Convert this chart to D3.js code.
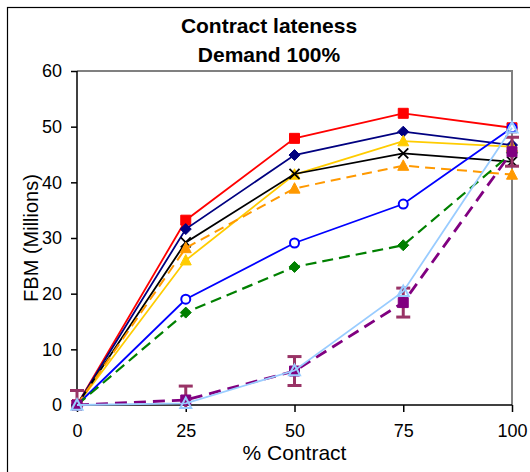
<!DOCTYPE html>
<html>
<head>
<meta charset="utf-8">
<script src="https://cdn.jsdelivr.net/npm/d3@7"></script>
<style>
  html, body { margin: 0; padding: 0; background: #fff; }
  svg { display: block; font-family: "Liberation Sans", Arial, sans-serif; }
</style>
</head>
<body>
<svg id="chart" width="530" height="472"></svg>
<script>
// % of supply under contract
const contractPct = [0, 25, 50, 75, 100];
const xTicks = [0, 25, 50, 75, 100];
const yTicks = [0, 10, 20, 30, 40, 50, 60];

// FBM (millions) per scenario
const redSquares     = [0, 33.2, 47.9, 52.4, 49.8];
const navyDiamonds   = [0, 31.6, 44.9, 49.1, 46.7];
const goldTriangles  = [0, 26.0, 41.4, 47.4, 46.4];
const blackCrosses   = [0, 29.2, 41.5, 45.2, 43.7];
const orangeTriangles= [0, 28.2, 38.9, 43.0, 41.4];
const blueCircles    = [0, 19.0, 29.1, 36.1, 49.8];
const greenDiamonds  = [0, 16.6, 24.8, 28.7, 45.3];
const purpleSquares  = [0, 0.9, 6.1, 18.4, 45.5];
const purpleErr      = [2.6, 2.5, 2.6, 2.6, 2.6];
const skyTriangles   = [0, 0.3, 6.2, 20.4, 49.8];

const series = [
  { values: redSquares,      color: "#FF0000", dash: null,   width: 1.8, marker: "square",   size: 10, fill: true },
  { values: navyDiamonds,    color: "#000080", dash: null,   width: 1.8, marker: "diamond",  size: 11, fill: true },
  { values: goldTriangles,   color: "#FFCC00", dash: null,   width: 1.8, marker: "triangle", size: 11, fill: true },
  { values: blackCrosses,    color: "#000000", dash: null,   width: 1.8, marker: "cross",    size: 10, fill: false },
  { values: orangeTriangles, color: "#FF9900", dash: "10,6", width: 2,   marker: "triangle", size: 11, fill: true },
  { values: blueCircles,     color: "#0000FF", dash: null,   width: 1.8, marker: "circle",   size: 9,  fill: false },
  { values: greenDiamonds,   color: "#008000", dash: "11,6", width: 2.2, marker: "diamond",  size: 11, fill: true },
  { values: purpleSquares,   color: "#800080", dash: "12,7", width: 2.8, marker: "square",   size: 10, fill: true, err: purpleErr },
  { values: skyTriangles,    color: "#99CCFF", dash: null,   width: 1.8, marker: "triangle", size: 11, fill: false }
];

const svg = d3.select("#chart");
const plot = { left: 77, right: 512, top: 71, bottom: 405 };

const x = d3.scaleLinear().domain([0, 100]).range([plot.left, plot.right]);
const y = d3.scaleLinear().domain([0, 60]).range([plot.bottom, plot.top]);

// outer frame
svg.append("rect")
  .attr("x", 7.5).attr("y", 7.5)
  .attr("width", 540).attr("height", 480)
  .attr("fill", "none").attr("stroke", "#000").attr("stroke-width", 1.2);

// title
const title = svg.append("text")
  .attr("x", 269).attr("text-anchor", "middle")
  .attr("font-weight", "bold").attr("font-size", 21);
title.append("tspan").attr("x", 269).attr("y", 33).text("Contract lateness");
title.append("tspan").attr("x", 269).attr("y", 62).text("Demand 100%");

// plot-area frame (top and right)
svg.append("path")
  .attr("d", `M${plot.left},${plot.top}H${plot.right}V${plot.bottom}`)
  .attr("fill", "none").attr("stroke", "#808080").attr("stroke-width", 2);

// axes
const yAxis = d3.axisLeft(y).tickValues(yTicks).tickSize(6).tickPadding(9);
const xAxis = d3.axisBottom(x).tickValues(xTicks).tickSize(7).tickPadding(12);

const gy = svg.append("g").attr("transform", `translate(${plot.left},0)`).call(yAxis);
const gx = svg.append("g").attr("transform", `translate(0,${plot.bottom})`).call(xAxis);

[gx, gy].forEach(g => {
  g.select(".domain").attr("stroke", "#000").attr("stroke-width", 1.5);
  g.selectAll(".tick line").attr("stroke", "#000").attr("stroke-width", 1.5);
  g.selectAll(".tick text")
    .attr("fill", "#000")
    .attr("font-size", 18)
    .attr("font-family", "Liberation Sans, Arial, sans-serif");
});
gy.select(".domain").attr("d", `M0,${plot.top}V${plot.bottom}`);
gx.select(".domain").attr("d", `M${plot.left},0H${plot.right}`);

// axis titles
svg.append("text")
  .attr("x", (plot.left + plot.right) / 2).attr("y", 460)
  .attr("text-anchor", "middle").attr("font-size", 21)
  .text("% Contract");

svg.append("text")
  .attr("transform", `translate(38,${(plot.top + plot.bottom) / 2}) rotate(-90)`)
  .attr("text-anchor", "middle").attr("font-size", 20)
  .text("FBM (Millions)");

// clip for error bars at the plot area
svg.append("clipPath").attr("id", "plotClip")
  .append("rect")
  .attr("x", plot.left - 20).attr("y", plot.top - 5)
  .attr("width", plot.right - plot.left + 40).attr("height", plot.bottom - plot.top + 8);

const line = d3.line()
  .x((d, i) => x(contractPct[i]))
  .y(d => y(d));

function markerPath(type, s) {
  const h = s / 2;
  switch (type) {
    case "square":   return `M${-h},${-h}H${h}V${h}H${-h}Z`;
    case "diamond":  return `M0,${-h}L${h},0L0,${h}L${-h},0Z`;
    case "triangle": return `M0,${-h * 1.05}L${h},${h * 0.85}L${-h},${h * 0.85}Z`;
    case "cross":    return `M${-h},${-h}L${h},${h}M${h},${-h}L${-h},${h}`;
    case "circle":   return d3.arc()({ innerRadius: 0, outerRadius: h, startAngle: 0, endAngle: 2 * Math.PI });
  }
}

series.forEach(s => {
  const g = svg.append("g");

  if (s.err) {
    const eg = g.append("g").attr("clip-path", "url(#plotClip)")
      .attr("stroke", "#993366").attr("stroke-width", 3);
    s.values.forEach((v, i) => {
      const cx = x(contractPct[i]);
      const top = y(v + s.err[i]), bot = y(v - s.err[i]);
      eg.append("line").attr("x1", cx).attr("x2", cx).attr("y1", top).attr("y2", bot);
      eg.append("line").attr("x1", cx - 7).attr("x2", cx + 7).attr("y1", top).attr("y2", top);
      eg.append("line").attr("x1", cx - 7).attr("x2", cx + 7).attr("y1", bot).attr("y2", bot);
    });
  }

  g.append("path")
    .attr("d", line(s.values))
    .attr("fill", "none")
    .attr("stroke", s.color)
    .attr("stroke-width", s.width)
    .attr("stroke-dasharray", s.dash);

  g.selectAll(".mk").data(s.values).join("path")
    .attr("transform", (d, i) => `translate(${x(contractPct[i])},${y(d)})`)
    .attr("d", markerPath(s.marker, s.size))
    .attr("fill", s.fill ? s.color : (s.marker === "circle" ? "#fff" : "none"))
    .attr("stroke", s.color)
    .attr("stroke-width", s.marker === "cross" ? 1.8 : (s.fill ? 1 : 2));
});
</script>
</body>
</html>
